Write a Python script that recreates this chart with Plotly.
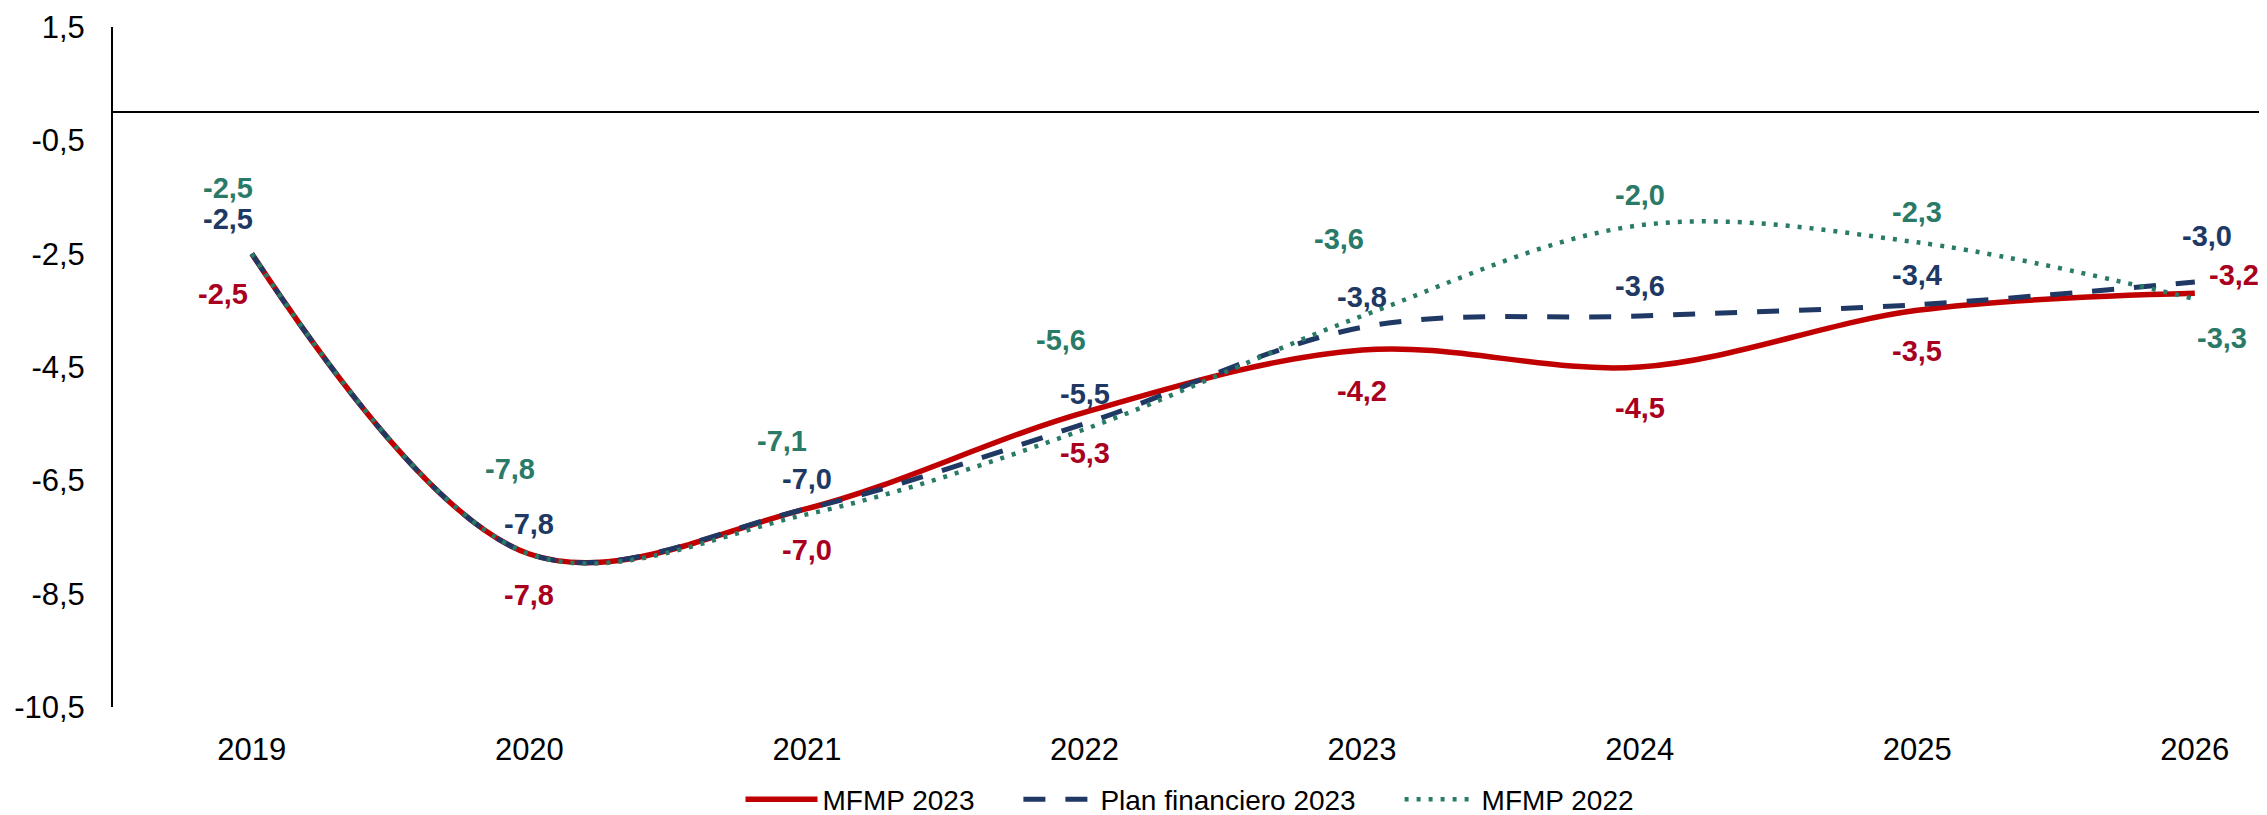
import plotly.graph_objects as go

# datos (% del PIB)
years = ['2019', '2020', '2021', '2022', '2023', '2024', '2025', '2026']
mfmp_2023 = [-2.5, -7.8, -7.0, -5.3, -4.2, -4.5, -3.5, -3.2]
plan_fin_2023 = [-2.5, -7.8, -7.0, -5.5, -3.8, -3.6, -3.4, -3.0]
mfmp_2022 = [-2.5, -7.8, -7.1, -5.6, -3.6, -2.0, -2.3, -3.3]
y_ticks = [1.5, -0.5, -2.5, -4.5, -6.5, -8.5, -10.5]


def fmt(v):
    return f"{v:.1f}".replace('.', ',')


# desplazamiento de las etiquetas (px) para cada serie
shift_red = [(-29, -36), (0, -37), (0, -37), (0, -37), (0, -37), (0, -37), (0, -37), (39, 22)]
shift_navy = [(-24, 39), (0, 34), (0, 34), (0, 34), (0, 34), (0, 34), (0, 34), (12, 50)]
shift_green = [(-24, 70), (-19, 89), (-25, 77), (-24, 93), (-23, 81), (0, 34), (0, 34), (27, -35)]

pad = '\u00a0' * 5
series = [
    ('MFMP 2023' + pad, mfmp_2023, '#C00000', '#A8001E', 'solid', 5.5, shift_red),
    ('Plan financiero 2023' + pad, plan_fin_2023, '#203864', '#203864', '22px,20px', 5, shift_navy),
    ('MFMP 2022', mfmp_2022, '#2A7A68', '#2A7A68', '4px,8px', 4.5, shift_green),
]

fig = go.Figure()
annots = []
for name, vals, line_col, txt_col, dash, width, shifts in series:
    fig.add_trace(go.Scatter(x=years, y=vals, name=name, mode='lines',
                             line=dict(color=line_col, width=width, dash=dash,
                                       shape='spline', smoothing=1.0)))
    for i, (v, (dx, dy)) in enumerate(zip(vals, shifts)):
        annots.append(go.layout.Annotation(
            x=i, y=v, text='<b>' + fmt(v) + '</b>', showarrow=False,
            xshift=dx, yshift=dy - 4, xref='x', yref='y',
            font=dict(family='Liberation Sans, Arial', size=29, color=txt_col)))

# linea del cero
fig.add_shape(type='line', xref='paper', x0=0, x1=1, yref='y', y0=0, y1=0,
              line=dict(color='black', width=2))

# la pagina tiene 8px de margen en body
fig.update_layout(
    width=2259, height=807,
    margin=dict(l=105, r=0, t=19, b=108, autoexpand=False),
    plot_bgcolor='white', paper_bgcolor='white',
    font=dict(family='Liberation Sans, Arial', size=31, color='black'),
    annotations=annots,
    showlegend=True,
    legend=dict(orientation='h', x=0.5, xanchor='center', y=-0.136, yanchor='middle',
                font=dict(size=28), itemwidth=72),
    xaxis=dict(type='category', range=[-0.5, 7.26], showline=False, showgrid=False,
               zeroline=False, ticks='', ticklabelstandoff=21),
    yaxis=dict(range=[-10.5, 1.5], tickvals=y_ticks, ticktext=[fmt(t) for t in y_ticks],
               showline=True, linecolor='black', linewidth=2, showgrid=False,
               zeroline=False, ticks='', ticklabelstandoff=20),
)

fig.write_html("out.html")
